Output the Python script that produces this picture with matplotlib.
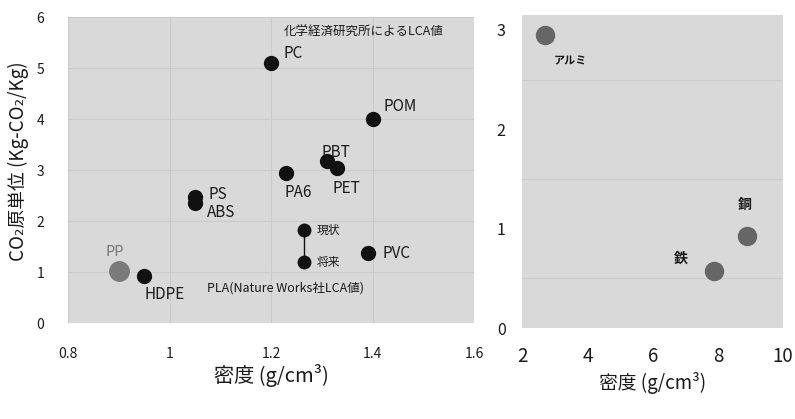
import matplotlib
matplotlib.use("Agg")
import matplotlib.pyplot as plt
from matplotlib.ticker import MultipleLocator

plt.rcParams['font.family'] = ['Noto Sans CJK JP', 'DejaVu Sans']

# ---- data: plastics (left) ----
plastic_names = ["PC", "POM", "PBT", "PET", "PA6", "PS", "ABS", "HDPE", "PVC"]
plastic_density = [1.20, 1.40, 1.31, 1.33, 1.23, 1.05, 1.05, 0.95, 1.39]
plastic_co2 = [5.1, 4.0, 3.18, 3.05, 2.95, 2.47, 2.36, 0.92, 1.37]
plastic_offsets = [(9, 7), (8, 9), (-4, 6), (-3, -15), (-1, -14), (10, 2), (9, -7), (0, -13), (11, 0)]
plastic_ha = ["left", "left", "left", "left", "left", "left", "left", "left", "left"]

pp_name = "PP"
pp_density = [0.90]
pp_co2 = [1.02]

pla_names = ["現状", "将来"]
pla_density = [1.265, 1.265]
pla_co2 = [1.82, 1.19]

# ---- data: metals (right) ----
metal_names = ["アルミ", "鉄", "銅"]
metal_density = [2.7, 7.87, 8.9]
metal_co2 = [2.95, 0.57, 0.93]
metal_offsets = [(6, -19), (-24, 9), (-2, 22)]
metal_ha = ["left", "center", "center"]
metal_fs = [8, 10, 10]

left_xticks = [0.8, 1.0, 1.2, 1.4, 1.6]
left_xticklabels = ["0.8", "1", "1.2", "1.4", "1.6"]
left_yticks = [0, 1, 2, 3, 4, 5, 6]
right_xticks = [2, 4, 6, 8, 10]
right_yticks = [0, 1, 2, 3]

bg = "#d9d9d9"
grid_c = "#cacaca"
txt = "#1a1a1a"

fig = plt.figure(figsize=(7.95, 4.19), dpi=100)
fig.patch.set_facecolor("white")

# ---------------- left axes ----------------
ax1 = fig.add_axes([0.0855, 0.229, 0.511, 0.730])
ax1.set_facecolor(bg)
ax1.set_xlim(0.8, 1.6)
ax1.set_ylim(0, 6)
ax1.set_xticks(left_xticks)
ax1.set_xticklabels(left_xticklabels)
ax1.set_yticks(left_yticks)
ax1.grid(True, color=grid_c, lw=0.8)
ax1.set_axisbelow(True)
for s in ax1.spines.values():
    s.set_visible(False)
ax1.tick_params(axis='both', length=0, labelsize=10, colors=txt)
ax1.tick_params(axis='x', pad=17)
ax1.tick_params(axis='y', pad=17)

ax1.plot(plastic_density, plastic_co2, 'o', color="#111111", ms=10, ls='none', zorder=3)
for n, x, y, off, ha in zip(plastic_names, plastic_density, plastic_co2, plastic_offsets, plastic_ha):
    ax1.annotate(n, (x, y), xytext=off, textcoords='offset points', ha=ha, va='center',
                 fontsize=11, color=txt)

ax1.plot(pp_density, pp_co2, 'o', color="#7a7a7a", ms=14, zorder=3)
ax1.annotate(pp_name, (pp_density[0], pp_co2[0]), xytext=(-3, 14), textcoords='offset points',
             ha='center', va='center', fontsize=10.5, color="#777777")

ax1.plot(pla_density, pla_co2, '-', color="#111111", lw=1, zorder=2)
ax1.plot(pla_density, pla_co2, 'o', color="#111111", ms=9, zorder=3)
for n, x, y in zip(pla_names, pla_density, pla_co2):
    ax1.annotate(n, (x, y), xytext=(9, 0), textcoords='offset points', ha='left', va='center',
                 fontsize=8.5, color=txt)

ax1.text(0.342, 0.114, "PLA(Nature Works社LCA値)", transform=ax1.transAxes,
         ha='left', va='center', fontsize=9, color=txt)
ax1.text(0.53, 0.951, "化学経済研究所によるLCA値", transform=ax1.transAxes,
         ha='left', va='center', fontsize=9, color=txt)

ax1.set_xlabel("密度 (g/cm³)", fontsize=14.5, color=txt)
ax1.xaxis.set_label_coords(0.5, -0.135)
ax1.set_ylabel("CO₂原単位 (Kg-CO₂/Kg)", fontsize=13.5, color=txt)
ax1.yaxis.set_label_coords(-0.097, 0.53)

# ---------------- right axes ----------------
ax2 = fig.add_axes([0.657, 0.217, 0.328, 0.747])
ax2.set_facecolor(bg)
ax2.set_xlim(2, 10)
ax2.set_ylim(0, 3.15)
ax2.set_xticks(right_xticks)
ax2.set_yticks(right_yticks)
ax2.xaxis.set_minor_locator(MultipleLocator(4))
ax2.yaxis.set_minor_locator(MultipleLocator(0.5))
ax2.grid(False)
ax2.grid(True, which='minor', color=grid_c, lw=0.8)
ax2.set_axisbelow(True)
for s in ax2.spines.values():
    s.set_visible(False)
ax2.tick_params(axis='both', which='both', length=0, colors=txt)
ax2.tick_params(axis='x', labelsize=13.5, pad=13)
ax2.tick_params(axis='y', labelsize=11.5, pad=12)

ax2.plot(metal_density, metal_co2, 'o', color="#666666", ms=13, ls='none', zorder=3)
for n, x, y, off, ha, fs in zip(metal_names, metal_density, metal_co2, metal_offsets, metal_ha, metal_fs):
    ax2.annotate(n, (x, y), xytext=off, textcoords='offset points', ha=ha, va='center',
                 fontsize=fs, color=txt, fontweight='bold')

ax2.set_xlabel("密度 (g/cm³)", fontsize=13.5, color=txt)
ax2.xaxis.set_label_coords(0.5, -0.14)

fig.savefig("out.png", dpi=100)
